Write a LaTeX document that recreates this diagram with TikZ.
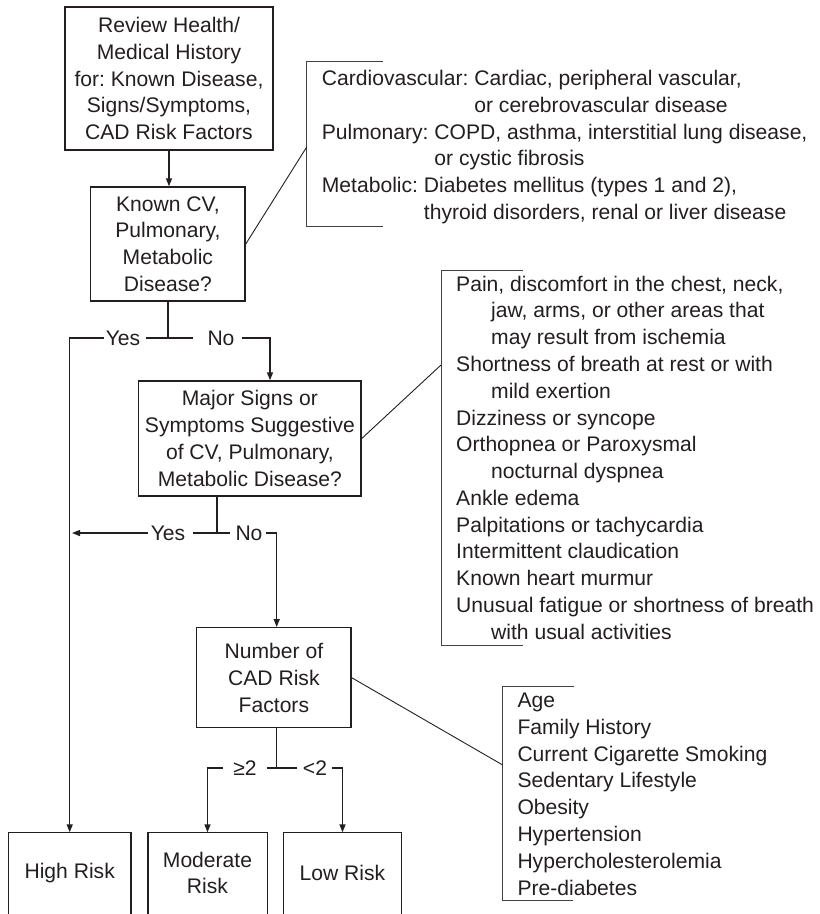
\documentclass[tikz,border=0pt]{standalone}
\usepackage{fontspec}
\setmainfont{Liberation Sans}
\usetikzlibrary{arrows.meta}
\definecolor{ink}{HTML}{231F20}
\frenchspacing
\begin{document}
\begin{tikzpicture}[x=1pt,y=-1pt,
  every node/.style={font=\fontsize{21.1}{26.8}\selectfont, text=ink},
  box/.style={draw=ink, line width=1.4pt, align=center, inner sep=0pt},
  risk/.style={align=center, inner sep=0pt, minimum height=81},
  lbl/.style={inner sep=0pt},
  flow/.style={draw=ink, line width=1.4pt},
  arr/.style={flow, -{Triangle[length=8pt,width=6pt]}},
  lead/.style={draw=ink, line width=0.9pt},
  brk/.style={draw=ink!85, line width=1pt},
  note/.style={anchor=north west, align=left, inner sep=0pt}]
\useasboundingbox (0,0) rectangle (820,914);
\fill[white] (0,0) rectangle (820,914);
\clip (0,0) rectangle (820,914);

% decision boxes
\node[box, minimum width=208, minimum height=143] (b1) at (169,78.5)
  {Review Health/\\Medical History\\for: Known Disease,\\Signs/Symptoms,\\CAD Risk Factors};
\node[box, minimum width=154.3, minimum height=114] (b2) at (167.9,244)
  {Known CV,\\Pulmonary,\\Metabolic\\Disease?};
\node[box, minimum width=222.3, minimum height=115] (b3) at (249.9,438.5)
  {Major Signs or\\Symptoms Suggestive\\of CV, Pulmonary,\\Metabolic Disease?};
\node[box, minimum width=154.3, minimum height=100] (b4) at (273.9,677.7)
  {Number of\\CAD Risk\\Factors};

% outcome boxes (open at the bottom edge)
\node[risk, minimum width=122] (hr) at (69.7,873) {High Risk};
\node[risk, minimum width=119] (mr) at (207.5,873) {Moderate\\Risk};
\node[risk, minimum width=117.6] (lr) at (342.5,873) {Low Risk};
\foreach \n in {hr,mr,lr}
  \draw[flow] ([yshift=-30pt]\n.south west) -- (\n.north west) -- (\n.north east) -- ([yshift=-30pt]\n.south east);

% first step
\draw[arr] (b1.south) -- (b1.south |- b2.north);

% known disease branch
\coordinate (j1) at (167.9,338);
\draw[flow] (b2.south) -- (j1);
\node[lbl] (y1) at (123,338) {Yes};
\node[lbl] (n1) at (221,338) {No};
\draw[arr] ([xshift=-2pt]y1.west) -| (hr.north);
\draw[flow] ([xshift=6pt]y1.east) -- ([xshift=-14pt]n1.west);
\draw[arr] ([xshift=7pt]n1.east) -| (b3.north -| 270,0);

% signs / symptoms branch
\coordinate (j2) at (217,533);
\coordinate (t2) at (72,533);
\draw[flow] (b3.south -| j2) -- (j2);
\node[lbl] (y2) at (168,533) {Yes};
\node[lbl] (n2) at (249,533) {No};
\draw[arr] ([xshift=-3pt]y2.west) -- (t2);
\draw[flow] ([xshift=8pt]y2.east) -- ([xshift=-5pt]n2.west);
\draw[arr] ([xshift=3pt]n2.east) -| (b4.north -| 276.7,0);

% risk factor count branch
\coordinate (j3) at (276.7,768);
\draw[flow] (b4.south -| j3) -- (j3);
\node[lbl] (ge) at (245,768) {≥2};
\node[lbl] (lt) at (315,768) {<2};
\draw[arr] ([xshift=-10pt]ge.west) -| (mr.north);
\draw[flow] ([xshift=10pt]ge.east) -- ([xshift=-6pt]lt.west);
\draw[arr] ([xshift=5pt]lt.east) -| (lr.north);

% callout: known disease
\draw[brk] (383,61.7) -- (306.7,61.7) -- (306.7,226) -- (383,226);
\coordinate (k1) at (306.7,147);
\draw[lead] (b2.east) -- (k1);
\node[note] (c1) at (321.7,70)
  {Cardiovascular: Cardiac, peripheral vascular,\\
   \phantom{Cardiovascular: }or cerebrovascular disease\\
   Pulmonary: COPD, asthma, interstitial lung disease,\\
   \phantom{Pulmonary: }or cystic fibrosis\\
   Metabolic: Diabetes mellitus (types 1 and 2),\\
   \phantom{Metabolic: }thyroid disorders, renal or liver disease};

% callout: signs and symptoms
\draw[brk] (522.7,270) -- (441,270) -- (441,645) -- (522.7,645);
\coordinate (k2) at (441,365);
\draw[lead] (b3.east) -- (k2);
\node[note] (c2) at (456,275.5)
  {Pain, discomfort in the chest, neck,\\
   \hspace*{35pt}jaw, arms, or other areas that\\
   \hspace*{35pt}may result from ischemia\\
   Shortness of breath at rest or with\\
   \hspace*{35pt}mild exertion\\
   Dizziness or syncope\\
   Orthopnea or Paroxysmal\\
   \hspace*{35pt}nocturnal dyspnea\\
   Ankle edema\\
   Palpitations or tachycardia\\
   Intermittent claudication\\
   Known heart murmur\\
   Unusual fatigue or shortness of breath\\
   \hspace*{35pt}with usual activities};

% callout: risk factors
\draw[brk] (574,686.7) -- (502.7,686.7) -- (502.7,900) -- (573,900);
\coordinate (k3) at (502.7,765);
\draw[lead] (b4.east) -- (k3);
\node[note] (c3) at (517.3,692.7)
  {Age\\Family History\\Current Cigarette Smoking\\Sedentary Lifestyle\\Obesity\\Hypertension\\Hypercholesterolemia\\Pre-diabetes};
\end{tikzpicture}
\end{document}
